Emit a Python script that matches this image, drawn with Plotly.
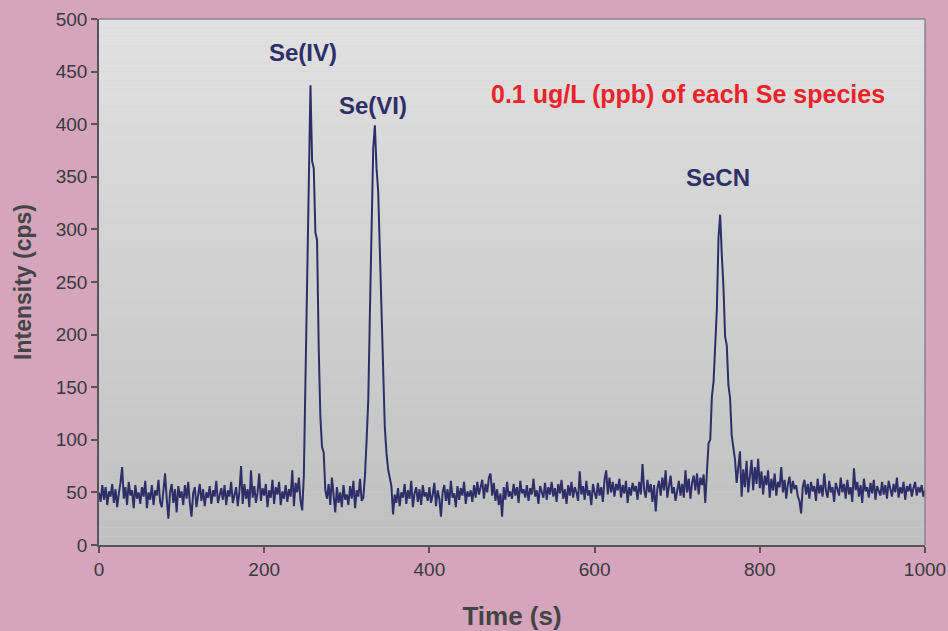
import plotly.graph_objects as go

# Intensity (cps) sampled every 2 s from 0 to 1000 s
intensity = [
    # 0-48
    50, 41, 57, 43, 55, 38, 51, 46, 58, 40, 53, 36, 49, 59, 74, 44, 55, 38, 60, 47, 52, 35, 57, 44, 50,
    # 50-98
    39, 55, 46, 61, 35, 50, 43, 57, 38, 52, 47, 62, 41, 36, 55, 68, 44, 25, 50, 58, 40, 53, 31, 56, 45,
    # 100-148
    51, 38, 57, 44, 60, 40, 27, 49, 55, 36, 47, 58, 42, 53, 37, 50, 45, 56, 39, 52, 46, 61, 40, 48, 54,
    # 150-198
    43, 57, 38, 52, 46, 60, 40, 49, 55, 37, 51, 75, 39, 58, 44, 53, 36, 71, 45, 56, 40, 50, 68, 42, 54,
    # 200-248
    47, 58, 36, 52, 45, 62, 39, 55, 48, 60, 38, 51, 44, 57, 41, 53, 46, 71, 37, 59, 50, 64, 42, 33, 66,
    # 250-298  Se(IV)
    155, 248, 320, 437, 365, 358, 297, 290, 187, 122, 93, 88, 52, 44, 58, 38, 64, 46, 31, 55, 40, 50, 36, 57, 43,
    # 300-348  Se(VI)
    48, 38, 56, 44, 61, 35, 52, 46, 63, 42, 45, 66, 100, 138, 222, 322, 377, 399, 358, 336, 276, 240, 160, 112, 88,
    # 350-398
    72, 64, 56, 29, 48, 40, 54, 37, 50, 45, 58, 39, 52, 44, 61, 36, 49, 55, 41, 53, 38, 57, 46, 50, 42,
    # 400-448
    55, 40, 48, 59, 37, 52, 44, 27, 50, 57, 42, 53, 38, 61, 45, 49, 36, 56, 43, 54, 47, 60, 39, 51, 46,
    # 450-498
    52, 41, 57, 45, 60, 48, 55, 62, 44, 58, 50, 64, 68, 47, 59, 42, 53, 38, 49, 27, 55, 43, 60, 46, 51,
    # 500-548
    44, 58, 47, 55, 40, 61, 49, 53, 45, 57, 42, 54, 48, 63, 46, 52, 39, 56, 50, 45, 59, 43, 55, 48, 60,
    # 550-598
    46, 54, 41, 58, 49, 62, 44, 53, 39, 57, 47, 60, 45, 55, 50, 42, 70, 48, 56, 43, 61, 47, 52, 38, 58,
    # 600-648
    50, 44, 59, 47, 55, 41, 62, 71, 48, 64, 50, 60, 46, 58, 52, 63, 45, 57, 49, 61, 40, 55, 47, 59, 51,
    # 650-698
    56, 43, 60, 48, 77, 52, 45, 62, 50, 58, 41, 57, 32, 54, 61, 47, 64, 52, 71, 45, 58, 66, 49, 55, 42,
    # 700-748  SeCN rise
    53, 61, 47, 58, 45, 71, 50, 63, 44, 59, 66, 52, 68, 48, 64, 57, 67, 40, 70, 97, 100, 141, 155, 198, 224,
    # 750-798
    292, 314, 276, 245, 198, 190, 152, 140, 104, 90, 81, 59, 78, 89, 46, 72, 55, 80, 50, 68, 81, 52, 74, 58, 82,
    # 800-848
    54, 70, 48, 66, 57, 71, 45, 63, 52, 68, 47, 60, 55, 74, 50, 62, 44, 58, 65, 49, 61, 53, 57, 46, 42,
    # 850-898
    30, 55, 62, 48, 58, 44, 60, 51, 56, 42, 63, 49, 57, 46, 68, 52, 45, 61, 50, 55, 41, 59, 53, 47, 64,
    # 900-948
    50, 58, 44, 62, 48, 55, 41, 73, 52, 60, 46, 57, 40, 63, 51, 55, 45, 59, 49, 62, 43, 56, 52, 47, 60,
    # 950-1000
    48, 57, 44, 61, 52, 46, 58, 50, 64, 45, 55, 49, 60, 43, 56, 51, 58, 46, 54, 60, 47, 55, 50, 57, 46, 52,
]
time_s = [2 * i for i in range(len(intensity))]

x_ticks = [0, 200, 400, 600, 800, 1000]
y_ticks = [0, 50, 100, 150, 200, 250, 300, 350, 400, 450, 500]

peak_labels = ["Se(IV)", "Se(VI)", "SeCN"]
peak_label_x = [247, 332, 749]
peak_label_y = [468, 418, 349]

note_text = "0.1 ug/L (ppb) of each Se species"

FONT = "Liberation Sans, Arial, sans-serif"
NAVY = "#2e2f68"

fig = go.Figure()
fig.add_trace(go.Scatter(
    x=time_s, y=intensity, mode="lines",
    line=dict(color=NAVY, width=2), hoverinfo="skip", showlegend=False,
))

# gradient plot background (bands)
shapes = []
n_bands = 60
for k in range(n_bands):
    f = k / (n_bands - 1)
    g = int(round(225 - (225 - 192) * f))
    shapes.append(dict(
        type="rect", xref="paper", yref="paper",
        x0=0, x1=1, y0=1 - (k + 1) / n_bands, y1=1 - k / n_bands,
        fillcolor=f"rgb({g},{g},{g})", line=dict(width=0), layer="below",
    ))
# top / right border
shapes.append(dict(type="line", xref="paper", yref="paper", x0=0, x1=1, y0=1, y1=1,
                   line=dict(color="#8c8682", width=1.5)))
shapes.append(dict(type="line", xref="paper", yref="paper", x0=1, x1=1, y0=0, y1=1,
                   line=dict(color="#8c8682", width=1.5)))

annotations = []
for txt, ax_, ay_ in zip(peak_labels, peak_label_x, peak_label_y):
    annotations.append(dict(x=ax_, y=ay_, xref="x", yref="y", text=f"<b>{txt}</b>",
                            showarrow=False, font=dict(family=FONT, size=24, color=NAVY)))
annotations.append(dict(x=713, y=429, xref="x", yref="y", text=f"<b>{note_text}</b>",
                        showarrow=False, font=dict(family=FONT, size=25, color="#ee2228")))

fig.update_layout(
    width=948, height=631,
    margin=dict(l=99, r=23, t=19, b=86),
    paper_bgcolor="#d4a5bd",
    plot_bgcolor="#d0d0d0",
    shapes=shapes,
    annotations=annotations,
    font=dict(family=FONT, color="#3a3a3a"),
    xaxis=dict(
        range=[0, 1000], tickvals=x_ticks, ticks="outside", ticklen=6, tickwidth=1.5,
        tickcolor="#555", showline=True, linecolor="#555", linewidth=1.5, automargin=False,
        showgrid=False, zeroline=False, tickfont=dict(size=19, color="#3a3a3a"),
        title=dict(text="<b>Time (s)</b>", font=dict(size=26, color="#444"), standoff=28),
    ),
    yaxis=dict(
        range=[0, 500], tickvals=y_ticks, ticks="outside", ticklen=6, tickwidth=1.5,
        tickcolor="#555", showline=True, linecolor="#555", linewidth=1.5, automargin=False,
        showgrid=False, zeroline=False, tickfont=dict(size=19, color="#3a3a3a"),
        title=dict(text="<b>Intensity (cps)</b>", font=dict(size=23, color="#444"), standoff=18),
    ),
)

fig.write_html("out.html", config={"displayModeBar": False},
               post_script="document.body.style.margin='0';")
